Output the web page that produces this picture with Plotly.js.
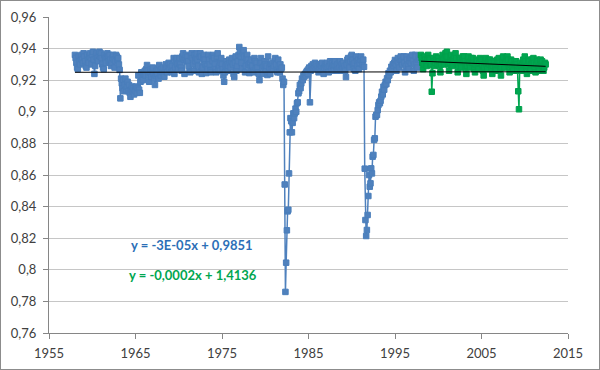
<!DOCTYPE html>
<html>
<head>
<meta charset="utf-8">
<script src="https://cdn.plot.ly/plotly-3.0.1.min.js"></script>
<style>
  html, body { margin: 0; padding: 0; background: #fff; }
  #wrap { position: relative; width: 600px; height: 370px; }
  #chart { width: 600px; height: 370px; }
  #frame { position: absolute; left: 0; top: 0; width: 598px; height: 368px; border: 1px solid #8c8c8c; pointer-events: none; }
</style>
</head>
<body>
<div id="wrap"><div id="chart"></div><div id="frame"></div></div>
<script>
// Monthly values, blue series from Jan 1958
const blueStartYear = 1958;
const blue1958to1965 = [
  0.936,0.934,0.931,0.928,0.927,0.935,0.932,0.930,0.934,0.936,0.933,0.931,
  0.937,0.935,0.932,0.929,0.928,0.936,0.933,0.931,0.935,0.937,0.934,0.930,
  0.936,0.938,0.933,0.924,0.929,0.935,0.937,0.934,0.932,0.936,0.938,0.935,
  0.937,0.934,0.930,0.928,0.927,0.936,0.934,0.931,0.935,0.937,0.935,0.932,
  0.936,0.933,0.929,0.931,0.934,0.936,0.933,0.928,0.932,0.936,0.935,0.933,
  0.934,0.930,0.9265,0.9085,0.921,0.918,0.915,0.920,0.913,0.917,0.921,0.914,
  0.916,0.919,0.913,0.917,0.912,0.9095,0.914,0.916,0.913,0.915,0.911,0.914,
  0.913,0.916,0.912,0.915,0.923,0.914,0.912,0.919,0.925,0.922,0.920,0.924
];
const blue1966to1973 = [
  0.924,0.926,0.923,0.927,0.9296,0.926,0.923,0.919,0.925,0.927,0.922,0.926,
  0.928,0.924,0.921,0.917,0.923,0.926,0.924,0.927,0.921,0.9296,0.926,0.923,
  0.927,0.925,0.928,0.924,0.9222,0.927,0.930,0.928,0.925,0.929,0.931,0.927,
  0.930,0.928,0.925,0.929,0.926,0.934,0.924,0.928,0.932,0.934,0.930,0.927,
  0.931,0.934,0.930,0.928,0.926,0.935,0.937,0.933,0.924,0.934,0.936,0.932,
  0.935,0.932,0.929,0.9255,0.925,0.935,0.937,0.934,0.930,0.926,0.936,0.932,
  0.934,0.937,0.933,0.929,0.925,0.935,0.937,0.935,0.924,0.928,0.934,0.936,
  0.933,0.930,0.9245,0.929,0.927,0.936,0.933,0.930,0.926,0.925,0.935,0.932
];
const blue1974to1981 = [
  0.936,0.934,0.930,0.927,0.925,0.935,0.937,0.927,0.929,0.926,0.931,0.934,
  0.930,0.927,0.923,0.919,0.925,0.929,0.932,0.930,0.926,0.929,0.933,0.931,
  0.928,0.932,0.934,0.930,0.924,0.922,0.931,0.935,0.926,0.929,0.932,0.936,
  0.941,0.938,0.935,0.931,0.927,0.937,0.939,0.935,0.925,0.929,0.934,0.936,
  0.933,0.930,0.9245,0.931,0.928,0.933,0.929,0.926,0.925,0.934,0.932,0.928,
  0.931,0.928,0.925,0.924,0.920,0.931,0.934,0.931,0.928,0.924,0.929,0.932,
  0.930,0.926,0.929,0.9233,0.935,0.925,0.928,0.924,0.930,0.927,0.931,0.927,
  0.929,0.932,0.934,0.930,0.926,0.925,0.933,0.929,0.925,0.930,0.927,0.928
];
const blue1982to1989 = [
  0.921,0.917,0.919,0.854,0.786,0.8045,0.825,0.837,0.838,0.861,0.887,0.896,
  0.894,0.887,0.893,0.899,0.896,0.899,0.902,0.900,0.9054,0.906,0.9117,0.913,
  0.917,0.915,0.918,0.921,0.920,0.923,0.922,0.924,0.923,0.925,0.926,0.924,
  0.927,0.928,0.906,0.926,0.929,0.928,0.930,0.927,0.929,0.931,0.928,0.930,
  0.927,0.929,0.925,0.928,0.930,0.926,0.929,0.931,0.927,0.924,0.928,0.930,
  0.929,0.927,0.931,0.928,0.925,0.929,0.932,0.930,0.927,0.931,0.929,0.926,
  0.930,0.932,0.929,0.926,0.930,0.927,0.931,0.928,0.932,0.926,0.930,0.927,
  0.931,0.927,0.929,0.926,0.922,0.930,0.933,0.934,0.931,0.928,0.932,0.935
];
const blue1990to1997 = [
  0.936,0.933,0.930,0.927,0.931,0.926,0.935,0.932,0.929,0.933,0.927,0.931,
  0.933,0.935,0.932,0.930,0.933,0.9285,0.864,0.8315,0.8214,0.8252,0.8347,0.8467,
  0.860,0.8526,0.8547,0.8642,0.861,0.8716,0.8727,0.8822,0.8832,0.8969,0.898,0.8980,
  0.9011,0.9043,0.906,0.9054,0.907,0.9096,0.9127,0.911,0.9159,0.914,0.917,0.919,
  0.9175,0.9212,0.920,0.9244,0.923,0.926,0.925,0.9285,0.927,0.930,0.929,0.931,
  0.9328,0.930,0.926,0.932,0.934,0.931,0.928,0.933,0.935,0.932,0.930,0.933,
  0.935,0.931,0.925,0.929,0.935,0.933,0.930,0.927,0.932,0.934,0.931,0.934,
  0.936,0.932,0.926,0.930,0.936,0.935,0.931,0.928,0.933,0.935,0.934,0.933
];
// Green series, monthly from Jan 1998
const greenStartYear = 1998;
const green1998to2005 = [
  0.936,0.934,0.931,0.927,0.930,0.935,0.933,0.931,0.929,0.933,0.936,0.934,
  0.933,0.930,0.930,0.9127,0.9244,0.934,0.932,0.929,0.931,0.935,0.933,0.930,
  0.934,0.932,0.929,0.925,0.930,0.934,0.936,0.933,0.930,0.934,0.937,0.935,
  0.938,0.935,0.930,0.926,0.931,0.935,0.936,0.932,0.929,0.933,0.935,0.932,
  0.937,0.934,0.930,0.925,0.929,0.934,0.933,0.931,0.928,0.932,0.935,0.933,
  0.935,0.932,0.928,0.924,0.929,0.933,0.935,0.931,0.928,0.932,0.934,0.931,
  0.934,0.931,0.927,0.925,0.930,0.933,0.932,0.929,0.927,0.931,0.934,0.932,
  0.933,0.930,0.926,0.923,0.928,0.932,0.934,0.930,0.927,0.931,0.933,0.930
];
const green2006to2012 = [
  0.933,0.931,0.927,0.924,0.929,0.932,0.931,0.928,0.926,0.930,0.933,0.931,
  0.934,0.931,0.927,0.923,0.928,0.932,0.935,0.931,0.928,0.931,0.934,0.932,
  0.935,0.933,0.929,0.925,0.930,0.933,0.932,0.929,0.926,0.930,0.932,0.930,
  0.932,0.930,0.926,0.913,0.9016,0.927,0.931,0.929,0.926,0.930,0.933,0.931,
  0.935,0.932,0.928,0.924,0.929,0.933,0.932,0.929,0.926,0.930,0.933,0.931,
  0.934,0.931,0.927,0.925,0.930,0.933,0.932,0.928,0.926,0.931,0.933,0.930,
  0.932,0.929,0.926,0.928,0.931,0.930
];
const xTickVals = [1955, 1965, 1975, 1985, 1995, 2005, 2015];
const yTickVals = [0.76, 0.78, 0.8, 0.82, 0.84, 0.86, 0.88, 0.9, 0.92, 0.94, 0.96];
const yTickText = ['0,76','0,78','0,8','0,82','0,84','0,86','0,88','0,9','0,92','0,94','0,96'];
const blueEqText = 'y = -3E-05x + 0,9851';
const greenEqText = 'y = -0,0002x + 1,4136';

const blueY = [].concat(blue1958to1965, blue1966to1973, blue1974to1981, blue1982to1989, blue1990to1997);
const greenY = [].concat(green1998to2005, green2006to2012);
const blueX = blueY.map((v, i) => blueStartYear + i / 12);
const greenX = greenY.map((v, i) => greenStartYear + i / 12);

function fit(xs, ys) {
  const n = xs.length;
  let sx = 0, sy = 0, sxx = 0, sxy = 0;
  for (let i = 0; i < n; i++) { sx += xs[i]; sy += ys[i]; sxx += xs[i]*xs[i]; sxy += xs[i]*ys[i]; }
  const b = (n*sxy - sx*sy) / (n*sxx - sx*sx);
  const a = (sy - b*sx) / n;
  const x0 = xs[0], x1 = xs[n-1];
  return { x: [x0, x1], y: [a + b*x0, a + b*x1] };
}
const allX = blueX.concat(greenX), allY = blueY.concat(greenY);
const tBlue = fit(allX, allY);
const tGreen = fit(greenX, greenY);

const BLUE = '#4F81BD', GREEN = '#00A650';
const traces = [
  { x: blueX, y: blueY, type: 'scatter', mode: 'lines+markers',
    line: { color: BLUE, width: 1.5 },
    marker: { symbol: 'square', size: 5.5, color: BLUE, line: { color: '#4A7EBB', width: 1 } } },
  { x: greenX, y: greenY, type: 'scatter', mode: 'lines+markers',
    line: { color: GREEN, width: 1.5 },
    marker: { symbol: 'square', size: 5.5, color: GREEN, line: { color: '#00A04C', width: 1 } } },
  { x: tBlue.x, y: tBlue.y, type: 'scatter', mode: 'lines', line: { color: '#000', width: 1 } },
  { x: tGreen.x, y: tGreen.y, type: 'scatter', mode: 'lines', line: { color: '#000', width: 1 } }
];
const layout = {
  width: 600, height: 370,
  margin: { l: 49, r: 32, t: 17, b: 37 },
  paper_bgcolor: '#fff', plot_bgcolor: '#fff',
  showlegend: false,
  font: { family: 'Lato, "Open Sans", sans-serif', size: 13, color: '#404040' },
  xaxis: { range: [1955, 2015], tickvals: xTickVals, ticks: 'outside', ticklen: 5, tickcolor: '#868686',
    showline: true, linecolor: '#868686', linewidth: 1, showgrid: false, zeroline: false,
    ticklabelstandoff: 3, tickfont: { size: 13, color: '#404040' } },
  yaxis: { range: [0.76, 0.96], tickvals: yTickVals, ticktext: yTickText, ticks: 'outside', ticklen: 5,
    tickcolor: '#868686', showline: true, linecolor: '#868686', linewidth: 1,
    showgrid: true, gridcolor: '#c6c6c6', gridwidth: 1, zeroline: false,
    ticklabelstandoff: 4, tickfont: { size: 13, color: '#404040' } },
  annotations: [
    { xref: 'paper', yref: 'paper', x: 0.1536, y: 0.2468, text: blueEqText, showarrow: false,
      font: { family: 'Lato', size: 13, color: '#2C6FB7', weight: 'bold' } },
    { xref: 'paper', yref: 'paper', x: 0.150, y: 0.152, text: greenEqText, showarrow: false,
      font: { family: 'Lato', size: 13, color: '#00A650', weight: 'bold' } }
  ]
};
Plotly.newPlot('chart', traces, layout, { staticPlot: true, displayModeBar: false });
</script>
</body>
</html>
